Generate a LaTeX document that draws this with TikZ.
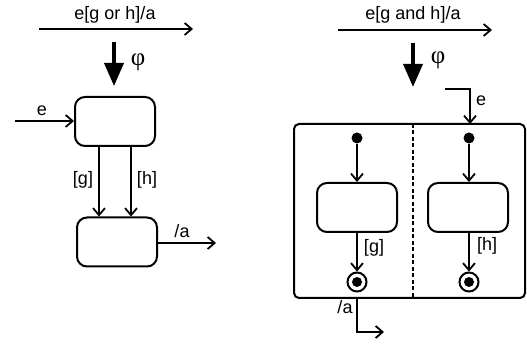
\documentclass[tikz,border=0pt]{standalone}
\usepackage{fontspec}
\setmainfont{Liberation Sans}
\newfontfamily\phifont{Liberation Serif}
\usetikzlibrary{arrows.meta}
\tikzset{
  lbl/.style={font=\fontsize{18}{20}\selectfont, inner sep=0pt},
  phil/.style={font=\phifont\fontsize{25}{27}\selectfont, inner sep=0pt},
  statebox/.style={draw, line width=2pt, rounded corners=10pt, minimum width=80pt, minimum height=49pt, inner sep=0pt},
  arr/.style={line width=1.8pt, -{Straight Barb[length=7pt,width=12pt,line width=1.8pt]}},
  thick arr/.style={line width=3.6pt, -{Triangle[length=23pt,width=19pt]}},
  dot/.style={circle, fill, inner sep=0pt, minimum size=11pt},
  finalst/.style={circle, draw, line width=2pt, inner sep=0pt, minimum size=19pt},
}
\begin{document}
\begin{tikzpicture}[x=1pt,y=-1pt]
\useasboundingbox (0,0) rectangle (527,344);
% ---------- left ----------
\coordinate (ta) at (39,29);
\coordinate (tb) at (193,29);
\draw[arr] (ta) -- (tb);
\node[lbl] (tl) at (115,15) {e[g or h]/a};
\coordinate (pa) at (114,42);
\coordinate (pb) at (114,86);
\draw[thick arr] (pa) -- (pb);
\node[phil] (phi1) at (138,62) {φ};
\node[statebox] (s1) at (115,121.5) {};
\node[statebox] (s2) at (117,242) {};
\coordinate (ein) at (15,121);
\draw[arr] (ein) -- (s1.west |- ein);
\node[lbl] (el) at (42,111) {e};
\coordinate (g1) at (99,0);
\coordinate (h1) at (131,0);
\draw[arr] (s1.south -| g1) -- (s2.north -| g1);
\draw[arr] (s1.south -| h1) -- (s2.north -| h1);
\node[lbl] (gl) at (83,180) {[g]};
\node[lbl] (hl) at (147,180) {[h]};
\coordinate (aout) at (216,243);
\draw[arr] (s2.east |- aout) -- (aout);
\node[lbl] (al) at (182,231) {/a};
% ---------- right ----------
\coordinate (ra) at (338,30);
\coordinate (rb) at (492,30);
\draw[arr] (ra) -- (rb);
\node[lbl] (tr) at (413,15) {e[g and h]/a};
\coordinate (qa) at (413,43);
\coordinate (qb) at (413,87);
\draw[thick arr] (qa) -- (qb);
\node[phil] (phi2) at (438,60) {φ};
\draw[line width=2pt, rounded corners=5pt] (294,124) rectangle (525,298);
\coordinate (bt) at (413,124);
\coordinate (bb) at (413,298);
\draw[line width=1.6pt, dash pattern=on 4pt off 2.5pt] (bt) -- (bb);
\coordinate (es) at (445,89);
\coordinate (ee) at (470,124);
\draw[arr] (es) -| (ee);
\node[lbl] (el2) at (481,101) {e};
% regions
\node[dot] (d1) at (357,138) {};
\node[dot] (d2) at (469,138) {};
\node[statebox] (b1) at (357,207.5) {};
\node[statebox] (b2) at (468,207.5) {};
\node[finalst] (f1) at (357,282) {};
\node[dot, minimum size=10pt] (f1i) at (357,282) {};
\node[finalst] (f2) at (469,282) {};
\node[dot, minimum size=10pt] (f2i) at (469,282) {};
\draw[arr] (d1) -- (b1.north -| d1);
\draw[arr] (d2) -- (b2.north -| d2);
\draw[arr] (b1.south -| f1) -- (f1);
\draw[arr] (b2.south -| f2) -- (f2);
\node[lbl] (gl2) at (374,248) {[g]};
\node[lbl] (hl2) at (487,246) {[h]};
% exit
\coordinate (xa) at (357,298);
\coordinate (xb) at (357,332);
\coordinate (xc) at (384,332);
\draw[arr] (xa) -- (xb) -- (xc);
\node[lbl] (al2) at (345,307) {/a};
\end{tikzpicture}
\end{document}
